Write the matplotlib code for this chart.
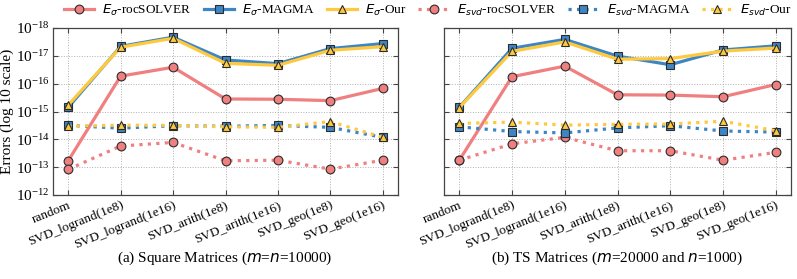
import matplotlib
matplotlib.use("Agg")
import matplotlib.pyplot as plt
import numpy as np

plt.rcParams['font.family'] = ['Liberation Serif', 'DejaVu Serif']
plt.rcParams['mathtext.fontset'] = 'custom'
plt.rcParams['mathtext.rm'] = 'Liberation Serif'
plt.rcParams['mathtext.it'] = 'DejaVu Sans:italic'
plt.rcParams['mathtext.bf'] = 'Liberation Serif:bold'

cats = ["random", "SVD_logrand(1e8)", "SVD_logrand(1e16)", "SVD_arith(1e8)",
        "SVD_arith(1e16)", "SVD_geo(1e8)", "SVD_geo(1e16)"]

# values are -log10(error)
# (a) square matrices
sq_sig_roc   = [13.23, 16.27, 16.59, 15.45, 15.44, 15.39, 15.83]
sq_sig_magma = [15.15, 17.34, 17.67, 16.85, 16.72, 17.26, 17.44]
sq_sig_our   = [15.23, 17.31, 17.63, 16.73, 16.66, 17.20, 17.33]
sq_svd_roc   = [12.92, 13.76, 13.89, 13.23, 13.25, 12.93, 13.25]
sq_svd_magma = [14.50, 14.40, 14.49, 14.47, 14.50, 14.43, 14.07]
sq_svd_our   = [14.47, 14.51, 14.50, 14.45, 14.43, 14.64, 14.07]

# (b) tall-skinny matrices
ts_sig_roc   = [13.25, 16.25, 16.63, 15.60, 15.59, 15.53, 15.97]
ts_sig_magma = [15.15, 17.27, 17.59, 16.99, 16.68, 17.21, 17.36]
ts_sig_our   = [15.14, 17.16, 17.50, 16.88, 16.90, 17.17, 17.28]
ts_svd_roc   = [13.25, 13.84, 14.07, 13.59, 13.59, 13.25, 13.53]
ts_svd_magma = [14.45, 14.28, 14.23, 14.41, 14.49, 14.30, 14.26]
ts_svd_our   = [14.57, 14.62, 14.51, 14.54, 14.55, 14.65, 14.31]

red = '#F07F80'
blue = '#3D86C6'
yellow = '#FFC93E'

fig = plt.figure(figsize=(7.97, 2.79), dpi=100)
ax1 = fig.add_axes([53/797, 1-195/279, 345/797, 167/279])
ax2 = fig.add_axes([444/797, 1-195/279, 347/797, 167/279])

x = np.arange(len(cats))

def draw(ax, series):
    handles = []
    for vals, col, mk, ls, lab in series:
        h, = ax.plot(x, 10.0**(-np.array(vals)), color=col, ls=ls, lw=2.3,
                     marker=mk, ms=6.3, mfc=col, mec='#2b2b2b', mew=0.8,
                     label=lab, dash_capstyle='butt')
        handles.append(h)
    ax.set_yscale('log')
    ax.set_ylim(1e-12, 1e-18)
    ax.set_xlim(-0.29, 6.29)
    ax.set_xticks(x)
    ax.set_xticklabels(cats, rotation=22, ha='right', rotation_mode='anchor',
                       fontsize=9.5)
    ax.set_yticks([1e-12, 1e-13, 1e-14, 1e-15, 1e-16, 1e-17, 1e-18])
    ax.grid(True, which='major', ls=':', color='#b0b0b0', lw=0.7)
    ax.tick_params(which='both', direction='in', top=True, right=True,
                   labelsize=11, color='#444444', pad=2.5)
    ax.tick_params(axis='x', labelsize=9.5, pad=3)
    for s in ax.spines.values():
        s.set_color('#444444')
        s.set_linewidth(0.9)
    return handles

labs = [r'$E_{\sigma}$-rocSOLVER', r'$E_{\sigma}$-MAGMA', r'$E_{\sigma}$-Our',
        r'$E_{svd}$-rocSOLVER', r'$E_{svd}$-MAGMA', r'$E_{svd}$-Our']

hs = draw(ax1, [
    (sq_sig_roc, red, 'o', '-', labs[0]),
    (sq_sig_magma, blue, 's', '-', labs[1]),
    (sq_sig_our, yellow, '^', '-', labs[2]),
    (sq_svd_roc, red, 'o', ':', labs[3]),
    (sq_svd_magma, blue, 's', ':', labs[4]),
    (sq_svd_our, yellow, '^', ':', labs[5]),
])
draw(ax2, [
    (ts_sig_roc, red, 'o', '-', labs[0]),
    (ts_sig_magma, blue, 's', '-', labs[1]),
    (ts_sig_our, yellow, '^', '-', labs[2]),
    (ts_svd_roc, red, 'o', ':', labs[3]),
    (ts_svd_magma, blue, 's', ':', labs[4]),
    (ts_svd_our, yellow, '^', ':', labs[5]),
])
ax2.tick_params(labelleft=False)

ax1.set_ylabel("Errors (log 10 scale)", fontsize=11)
ax1.yaxis.set_label_coords(-0.112, 0.5)

fig.legend(handles=hs, loc='center', bbox_to_anchor=(0.537, 0.963), ncol=6,
           frameon=False, fontsize=9.5, handlelength=2.3, columnspacing=0.9,
           handletextpad=0.6, borderpad=0.2)

fig.text(225/797, 1-258/279, r"(a) Square Matrices ($m$=$n$=10000)",
         ha='center', va='center', fontsize=11)
fig.text(617/797, 1-258/279, r"(b) TS Matrices ($m$=20000 and $n$=1000)",
         ha='center', va='center', fontsize=11)

plt.savefig("out.png", dpi=100)
